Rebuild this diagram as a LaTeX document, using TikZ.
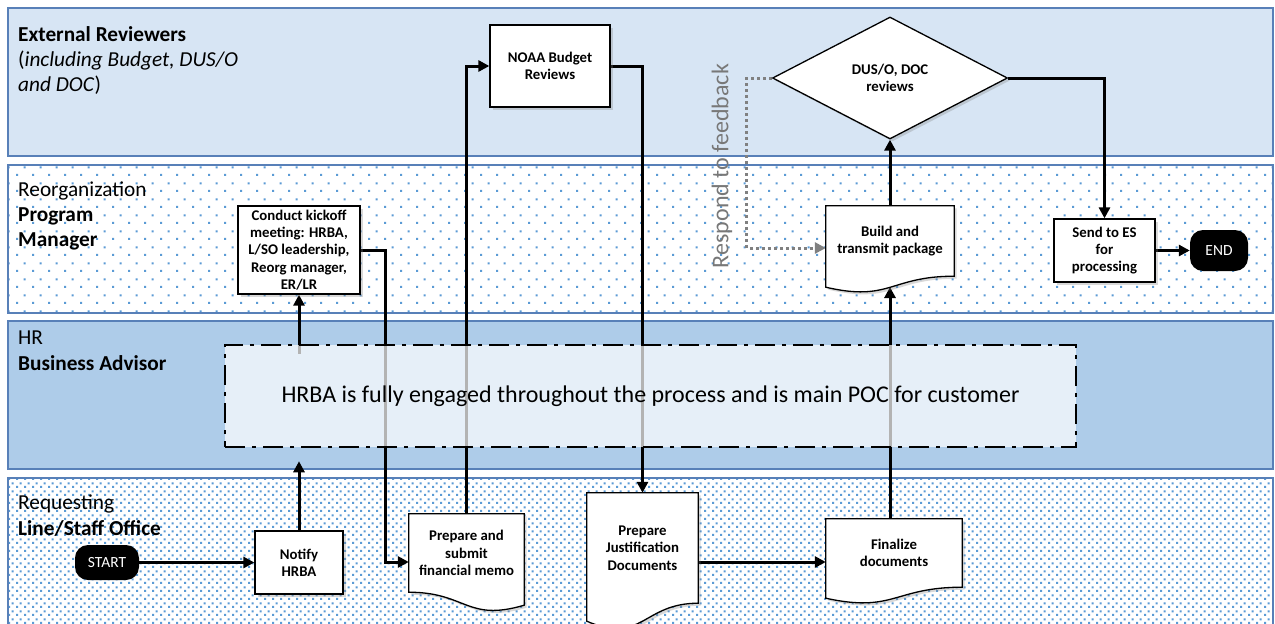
\documentclass[tikz,border=0pt]{standalone}
\usepackage{fontspec}
\setmainfont{Carlito}
\usetikzlibrary{arrows.meta,shapes.geometric,shadows,patterns,calc}
\definecolor{laneA}{RGB}{215,229,244}
\definecolor{laneC}{RGB}{174,204,233}
\definecolor{laneEdge}{RGB}{88,128,184}
\definecolor{dotblue}{RGB}{91,155,213}
\definecolor{fbgray}{RGB}{128,128,128}
\definecolor{fblab}{RGB}{120,120,120}
\pgfdeclarepatternformonly{sparsedots}{\pgfpointorigin}{\pgfpoint{16pt}{16pt}}{\pgfpoint{16pt}{16pt}}{%
  \pgfpathrectangle{\pgfpoint{0pt}{0pt}}{\pgfpoint{2.2pt}{2.2pt}}%
  \pgfpathrectangle{\pgfpoint{8pt}{8pt}}{\pgfpoint{2.2pt}{2.2pt}}%
  \pgfusepath{fill}}
\pgfdeclarepatternformonly{densedots}{\pgfpointorigin}{\pgfpoint{8pt}{8pt}}{\pgfpoint{8pt}{8pt}}{%
  \pgfpathrectangle{\pgfpoint{0pt}{0pt}}{\pgfpoint{2.4pt}{2.4pt}}%
  \pgfpathrectangle{\pgfpoint{4pt}{4pt}}{\pgfpoint{2.4pt}{2.4pt}}%
  \pgfusepath{fill}}
\pgfdeclarelayer{bg}
\pgfdeclarelayer{lines}
\pgfdeclarelayer{docs}
\pgfsetlayers{bg,lines,docs,main}
\begin{document}
\begin{tikzpicture}[x=1pt,y=-1pt,
  lane/.style={draw=laneEdge, line width=1.2pt},
  lab/.style={anchor=base west, inner sep=0pt, font=\fontsize{21.3}{25}\selectfont},
  blab/.style={lab, font=\bfseries\fontsize{21.3}{25}\selectfont},
  shad/.style={drop shadow={shadow xshift=2.5pt, shadow yshift=-2.5pt, opacity=0.3}},
  box/.style={draw=black, line width=1.3pt, fill=white, align=center, inner sep=1pt,
    font=\bfseries\fontsize{14.8}{17.3}\selectfont, shad},
  doctext/.style={align=center, inner sep=1pt, font=\bfseries\fontsize{14.8}{17.3}\selectfont},
  docline/.style={draw=black, line width=1.3pt, fill=white, shad},
  term/.style={fill=black, text=white, rounded corners=13pt, inner sep=1pt,
    font=\fontsize{15.5}{17}\selectfont},
  arr/.style={line width=3pt, -{Triangle[length=11pt,width=11pt]}},
  fb/.style={draw=fbgray, line width=3pt, dash pattern=on 3pt off 3pt,
    -{Triangle[length=11pt,width=11pt]}},
  hrbox/.style={draw=black, line width=2.5pt, dash pattern=on 20pt off 7pt on 4pt off 7pt,
    fill=white, fill opacity=0.7, text opacity=1, font=\fontsize{24}{28}\selectfont}
]
\useasboundingbox (0,0) rectangle (1275,624);

\begin{pgfonlayer}{bg}
\fill[white] (0,0) rectangle (1275,624);
% lanes
\fill[laneA] (8,8) rectangle (1273,156);
\draw[lane] (8,8) rectangle (1273,156);
\fill[white] (8,165) rectangle (1273,313);
\fill[pattern=sparsedots, pattern color=dotblue] (8,165) rectangle (1273,313);
\draw[lane] (8,165) rectangle (1273,313);
\fill[laneC] (8,321) rectangle (1273,469);
\draw[lane] (8,321) rectangle (1273,469);
\fill[white] (8,478) rectangle (1273,640);
\fill[pattern=densedots, pattern color=dotblue] (8,478) rectangle (1273,640);
\draw[lane] (8,640) -- (8,478) -- (1273,478) -- (1273,640);
\end{pgfonlayer}

% lane labels
\node[blab] (l1a) at (18,41) {External Reviewers};
\node[lab] (l1b) at (18,66) {(\textit{including Budget, DUS/O}};
\node[lab] (l1c) at (18,91) {\textit{and DOC})};
\node[lab] (l2a) at (18,196) {Reorganization};
\node[blab] (l2b) at (18,221) {Program};
\node[blab] (l2c) at (18,246) {Manager};
\node[lab] (l3a) at (18,344) {HR};
\node[blab] (l3b) at (18,370) {Business Advisor};
\node[lab] (l4a) at (18,509) {Requesting};
\node[blab] (l4b) at (18,535) {Line/Staff Office};

% process nodes
\node[box, minimum width=120pt, minimum height=82pt] (noaa) at (550,66) {NOAA Budget\\Reviews};
\node[diamond, draw=black, fill=white, line width=1.3pt, minimum width=235pt, minimum height=122pt,
  inner sep=0pt, align=center, font=\bfseries\fontsize{14.8}{17.3}\selectfont, shad] (dus) at (890,78) {DUS/O, DOC\\reviews};
\node[box, minimum width=122pt, minimum height=88pt] (kick) at (299,250) {Conduct kickoff\\meeting: HRBA,\\L/SO leadership,\\Reorg manager,\\ER/LR};
\node[box, minimum width=101pt, minimum height=63pt] (send) at (1104.5,250.5) {Send to ES\\for\\processing};
\node[term, minimum width=58pt, minimum height=41pt] (endn) at (1219,250.5) {END};
\node[term, minimum width=64pt, minimum height=35pt] (start) at (107,562.5) {START};
\node[box, minimum width=88pt, minimum height=63pt] (notify) at (299,562.5) {Notify\\HRBA};

% document shapes (text part)
\node[doctext, minimum width=128pt, minimum height=70pt] (build) at (890,241) {Build and\\transmit package};
\node[doctext, minimum width=115pt, minimum height=78pt] (memo) at (466.5,553) {Prepare and\\submit\\financial memo};
\node[doctext, minimum width=111pt, minimum height=110pt] (just) at (642.5,548) {Prepare\\Justification\\Documents};
\node[doctext, minimum width=136pt, minimum height=68pt] (final) at (894,553) {Finalize\\documents};
\coordinate (buildbot) at (890,287);

\begin{pgfonlayer}{docs}
\draw[docline] (build.north west) -- (build.north east) -- (build.south east)
  .. controls (build.south) and ($(build.south)+(0,26)$) .. ($(build.south west)+(0,11)$) -- cycle;
\draw[docline] (final.north west) -- (final.north east) -- (final.south east)
  .. controls (final.south) and ($(final.south)+(0,26)$) .. ($(final.south west)+(0,11)$) -- cycle;
\draw[docline] (just.north west) -- (just.north east) -- (just.south east)
  .. controls (just.south) and ($(just.south)+(0,42)$) .. ($(just.south west)+(0,18)$) -- cycle;
\draw[docline] (memo.north west) -- (memo.north east) -- ($(memo.south east)+(0,13)$)
  .. controls ($(memo.south)+(0,30)$) and (memo.south) .. (memo.south west) -- cycle;
\end{pgfonlayer}

% HRBA overlay box
\node[hrbox, minimum width=851pt, minimum height=102pt] (hrba) at (650.5,396)
  {HRBA is fully engaged throughout the process and is main POC for customer};

% feedback label
\node[rotate=90, text=fblab, inner sep=0pt, font=\fontsize{24}{28}\selectfont] (fbl) at (722,166) {Respond to feedback};

% connectors
\begin{pgfonlayer}{lines}
\draw[arr] (start) -- (notify);
\draw[arr] (notify.north) -- ($(notify.north |- hrba.south)+(0,13)$);
\draw[arr] ($(kick.south |- hrba.north)+(0,10)$) -- (kick.south);
\draw[arr] (kick.east) -- ++(25,0) |- ($(memo.west)+(0,9)$);
\draw[arr] (memo.north) |- (noaa.west);
\draw[arr] (noaa.east) -| (just.north);
\draw[arr] ($(just.east)+(0,14)$) -- ($(just.east -| final.west)+(0,14)$);
\draw[arr] (final.north -| build.south) -- (buildbot);
\draw[arr] (build.north) -- (dus.south);
\draw[arr] (dus.east) -| (send.north);
\draw[arr] (send.east) -- (endn.west);
\draw[fb] (dus.west) -- ++(-25,0) |- ($(build.west)+(0,7)$);
\end{pgfonlayer}
\end{tikzpicture}
\end{document}
